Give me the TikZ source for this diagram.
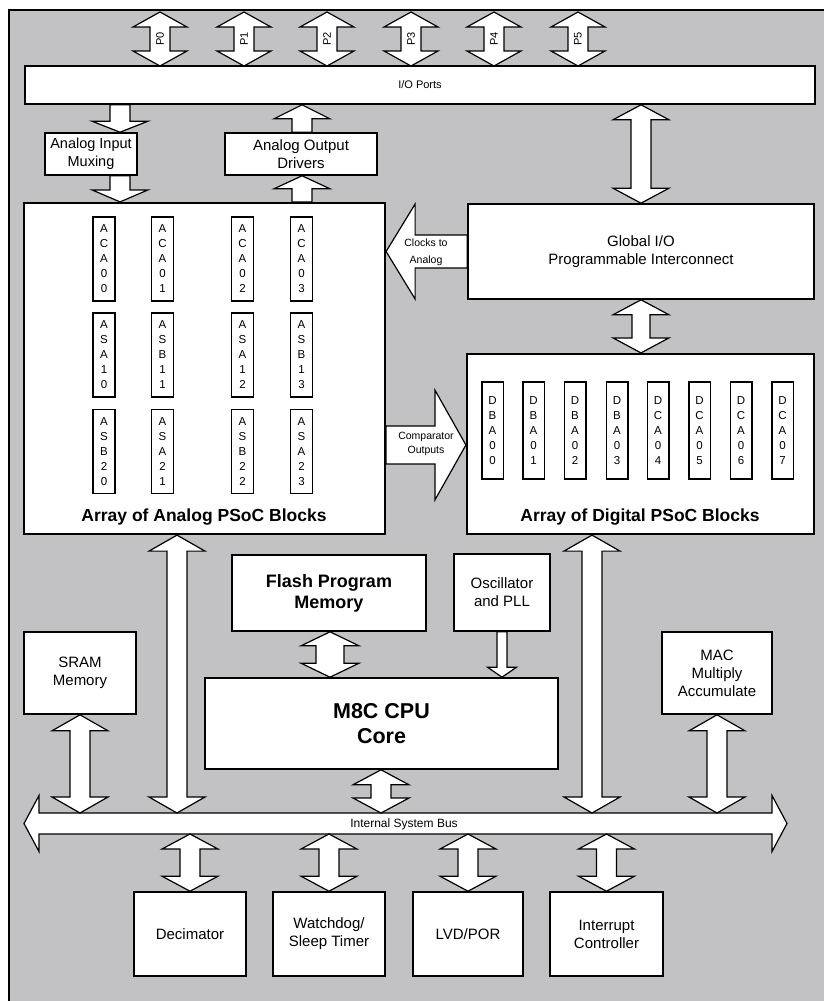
\documentclass[tikz,border=0pt]{standalone}
\usepackage{fontspec}
\setmainfont{Liberation Sans}
\usetikzlibrary{calc}
\definecolor{bg}{RGB}{194,193,195}
\newcommand\fs[2]{\fontsize{#1}{#2}\selectfont}
% vertical double fat arrow: top point, bottom point, head half width, shaft half width, head height
\newcommand\fatVV[5]{\draw[fat] let \p1=#1, \p2=#2 in
 (\x1,\y1) -- (\x1+#3,\y1-#5) -- (\x1+#4,\y1-#5) -- (\x1+#4,\y2+#5) -- (\x1+#3,\y2+#5) -- (\x1,\y2)
 -- (\x1-#3,\y2+#5) -- (\x1-#4,\y2+#5) -- (\x1-#4,\y1-#5) -- (\x1-#3,\y1-#5) -- cycle;}
% single fat arrows: tail, tip, head half width, shaft half width, head length
\newcommand\fatDn[5]{\draw[fat] let \p1=#1, \p2=#2 in
 (\x2,\y2) -- (\x2+#3,\y2+#5) -- (\x2+#4,\y2+#5) -- (\x2+#4,\y1) -- (\x2-#4,\y1) -- (\x2-#4,\y2+#5) -- (\x2-#3,\y2+#5) -- cycle;}
\newcommand\fatUp[5]{\draw[fat] let \p1=#1, \p2=#2 in
 (\x2,\y2) -- (\x2+#3,\y2-#5) -- (\x2+#4,\y2-#5) -- (\x2+#4,\y1) -- (\x2-#4,\y1) -- (\x2-#4,\y2-#5) -- (\x2-#3,\y2-#5) -- cycle;}
\newcommand\fatLt[5]{\draw[fat] let \p1=#1, \p2=#2 in
 (\x2,\y2) -- (\x2+#5,\y2+#3) -- (\x2+#5,\y2+#4) -- (\x1,\y2+#4) -- (\x1,\y2-#4) -- (\x2+#5,\y2-#4) -- (\x2+#5,\y2-#3) -- cycle;}
\newcommand\fatRt[5]{\draw[fat] let \p1=#1, \p2=#2 in
 (\x2,\y2) -- (\x2-#5,\y2+#3) -- (\x2-#5,\y2+#4) -- (\x1,\y2+#4) -- (\x1,\y2-#4) -- (\x2-#5,\y2-#4) -- (\x2-#5,\y2-#3) -- cycle;}
% horizontal double fat arrow: left tip, right tip, head half height, shaft half height, head length
\newcommand\fatHH[5]{\draw[fat] let \p1=#1, \p2=#2 in
 (\x1,\y1) -- (\x1+#5,\y1+#3) -- (\x1+#5,\y1+#4) -- (\x2-#5,\y1+#4) -- (\x2-#5,\y1+#3) -- (\x2,\y1)
 -- (\x2-#5,\y1-#3) -- (\x2-#5,\y1-#4) -- (\x1+#5,\y1-#4) -- (\x1+#5,\y1-#3) -- cycle;}
\begin{document}
\begin{tikzpicture}[x=1pt,y=-1pt,
  fat/.style={draw=black,fill=white,line width=1.2pt,line join=miter},
  blk/.style={draw=black,fill=white,line width=1.6pt,inner sep=0pt,align=center,font=\fs{15}{18}},
  arr/.style={draw=black,fill=white,line width=2.2pt,inner sep=0pt},
  cell/.style={draw=black,fill=white,line width=1.5pt,inner sep=0pt,align=center,font=\fs{11.5}{15}},
  lbl/.style={inner sep=0pt,align=center},
  ttl/.style={inner sep=0pt,font=\bfseries\fs{17.5}{20}}]
\useasboundingbox (0,0) rectangle (823,1001);
\fill[white] (0,0) rectangle (823,1001);
\draw[fill=bg,line width=1.2pt] (9,10) rectangle (840,1020);

% ---- boxes
\node[blk,minimum width=790pt,minimum height=38pt,font=\fs{11}{13}] (io) at (420,85) {I/O Ports};
\node[blk,minimum width=92pt,minimum height=42pt,font=\fs{14.5}{18}] (mux) at (91,154) {Analog Input\\Muxing};
\node[blk,minimum width=152pt,minimum height=42pt] (aod) at (301,154) {Analog Output\\Drivers};
\node[arr,minimum width=361pt,minimum height=331pt] (ana) at (204.5,368.5) {};
\node[blk,minimum width=346pt,minimum height=95pt] (gio) at (641,251.5) {Global I/O\\Programmable Interconnect};
\node[arr,minimum width=347pt,minimum height=180pt] (dig) at (640.5,444) {};
\node[blk,minimum width=194pt,minimum height=76pt,font=\bfseries\fs{18}{21}] (flash) at (329,593) {Flash Program\\Memory};
\node[blk,minimum width=96pt,minimum height=77pt] (osc) at (502,592.5) {Oscillator\\and PLL};
\node[blk,minimum width=353pt,minimum height=91pt,font=\bfseries\fs{21.5}{25}] (cpu) at (381.5,723.5) {M8C CPU\\Core};
\node[blk,minimum width=112pt,minimum height=82pt] (sram) at (80,673) {SRAM\\Memory};
\node[blk,minimum width=110pt,minimum height=82pt] (mac) at (717,673) {MAC\\Multiply\\Accumulate};
\node[blk,minimum width=112pt,minimum height=84pt] (dec) at (190,934) {Decimator};
\node[blk,minimum width=112pt,minimum height=84pt] (wdt) at (329,934) {Watchdog/\\Sleep Timer};
\node[blk,minimum width=110pt,minimum height=84pt] (lvd) at (468,934) {LVD/POR};
\node[blk,minimum width=113pt,minimum height=84pt] (irq) at (606.5,934) {Interrupt\\Controller};

\node[ttl] (anat) at (204,517) {Array of Analog PSoC Blocks};
\node[ttl] (digt) at (640,517) {Array of Digital PSoC Blocks};

% ---- analog cells
\foreach \cx/\cy/\ct/\cn in {104/259/{A\\C\\A\\0\\0}/a1, 162.5/259/{A\\C\\A\\0\\1}/a2, 242.5/259/{A\\C\\A\\0\\2}/a3, 301.5/259/{A\\C\\A\\0\\3}/a4,
  104/355/{A\\S\\A\\1\\0}/a5, 162.5/355/{A\\S\\B\\1\\1}/a6, 242.5/355/{A\\S\\A\\1\\2}/a7, 301.5/355/{A\\S\\B\\1\\3}/a8,
  104/451.5/{A\\S\\B\\2\\0}/a9, 162.5/451.5/{A\\S\\A\\2\\1}/a10, 242.5/451.5/{A\\S\\B\\2\\2}/a11, 301.5/451.5/{A\\S\\A\\2\\3}/a12}
  \node[cell,minimum width=22pt,minimum height=84pt] (\cn) at (\cx,\cy) {\ct};
% ---- digital cells
\foreach \cx/\ct/\cn in {492.5/{D\\B\\A\\0\\0}/d0, 533.5/{D\\B\\A\\0\\1}/d1, 575/{D\\B\\A\\0\\2}/d2, 617/{D\\B\\A\\0\\3}/d3,
  658/{D\\C\\A\\0\\4}/d4, 699.5/{D\\C\\A\\0\\5}/d5, 741/{D\\C\\A\\0\\6}/d6, 782.5/{D\\C\\A\\0\\7}/d7}
  \node[cell,minimum width=21.5pt,minimum height=97pt] (\cn) at (\cx,430.5) {\ct};

% ---- port arrows
\foreach \px/\pn in {160/P0,244/P1,327/P2,411/P3,494/P4,578/P5}{
  \coordinate (top\pn) at (\px,12);
  \coordinate (bot\pn) at (\px,66);
  \fatVV{(top\pn)}{(bot\pn)}{27pt}{10pt}{15pt}
  \node[lbl,rotate=90,font=\fs{11}{13}] (l\pn) at (\px,39) {\pn};
}

% ---- analog in / out
\coordinate (muxx) at (120,0);
\fatDn{(io.south -| muxx)}{(mux.north -| muxx)}{28pt}{10pt}{11pt}
\fatDn{(mux.south -| muxx)}{(ana.north -| muxx)}{28pt}{10pt}{12pt}
\coordinate (aodx) at (302,0);
\fatUp{(aod.north -| aodx)}{(io.south -| aodx)}{28pt}{10pt}{14pt}
\fatUp{(ana.north -| aodx)}{(aod.south -| aodx)}{28pt}{10pt}{13pt}

% ---- global io
\fatVV{(io.south -| gio.north)}{(gio.north)}{28pt}{10pt}{15pt}
\fatVV{(gio.south)}{(dig.north -| gio.south)}{28pt}{9pt}{15pt}
\fatLt{(gio.west)}{(gio.west -| ana.east)}{47.5pt}{16.5pt}{29pt}
\node[lbl,font=\fs{10.5}{17}] (clk) at (426,252.5) {Clocks to\\Analog};

% ---- comparator
\coordinate (cmpy) at (0,445);
\fatRt{(ana.east |- cmpy)}{(dig.west |- cmpy)}{55pt}{19pt}{31pt}
\node[lbl,font=\fs{10.5}{14}] (cmp) at (426,444) {Comparator\\Outputs};

% ---- bus
\coordinate (busL) at (24,823.5);
\coordinate (busR) at (787,823.5);
\coordinate (bustop) at (0,813);
\coordinate (busbot) at (0,834);
\fatHH{(busL)}{(busR)}{28pt}{10.5pt}{15pt}
\node[lbl,font=\fs{12}{14}] (busl) at (404,824) {Internal System Bus};

\coordinate (anax) at (177,0);
\coordinate (digx) at (592,0);
\coordinate (cpux) at (381,0);
\coordinate (flx) at (330,0);
\fatVV{(ana.south -| anax)}{(bustop -| anax)}{28pt}{10pt}{16pt}
\fatVV{(dig.south -| digx)}{(bustop -| digx)}{28pt}{10pt}{16pt}
\fatVV{(sram.south)}{(bustop -| sram.south)}{28pt}{10pt}{16pt}
\fatVV{(mac.south)}{(bustop -| mac.south)}{28pt}{10pt}{16pt}
\fatVV{(cpu.south -| cpux)}{(bustop -| cpux)}{28pt}{10pt}{15pt}
\fatVV{(flash.south -| flx)}{(cpu.north -| flx)}{29pt}{14pt}{14pt}
\fatDn{(osc.south)}{(cpu.north -| osc.south)}{14.5pt}{5pt}{10pt}

\fatVV{(busbot -| dec.north)}{(dec.north)}{28pt}{10pt}{15pt}
\fatVV{(busbot -| wdt.north)}{(wdt.north)}{28pt}{10pt}{15pt}
\fatVV{(busbot -| lvd.north)}{(lvd.north)}{28pt}{10pt}{15pt}
\fatVV{(busbot -| irq.north)}{(irq.north)}{28pt}{10pt}{15pt}
\end{tikzpicture}
\end{document}
